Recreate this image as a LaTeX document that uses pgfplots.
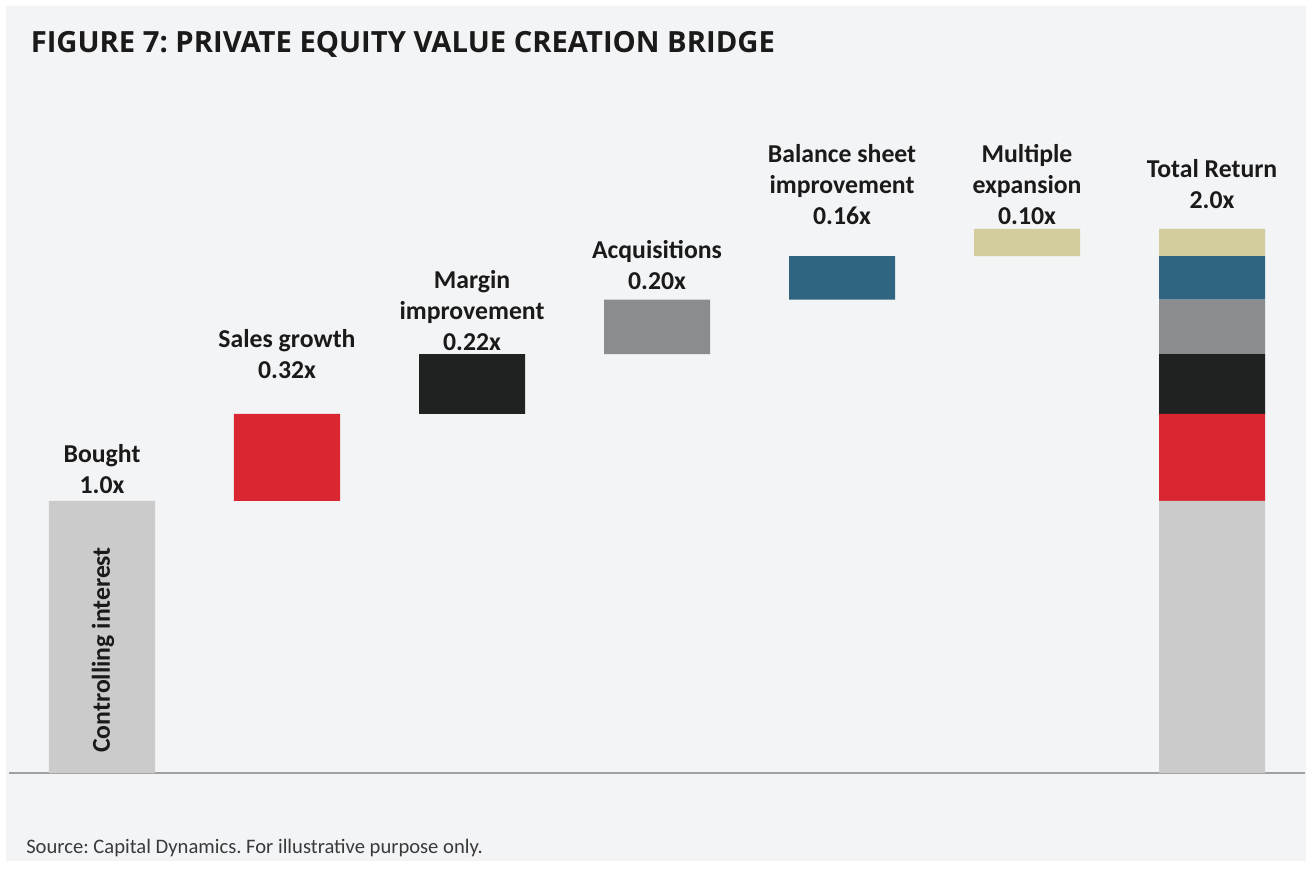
\documentclass[border=0pt]{standalone}
\usepackage{pgfplots}
\usepackage{pgfplotstable}
\pgfplotsset{compat=1.18}
\usepackage{fontspec}
\setmainfont{Carlito}
\newfontfamily\titlefont{Open Sans}
\frenchspacing

\definecolor{bgpanel}{HTML}{F3F4F6}
\definecolor{cgray}{HTML}{CBCBCB}
\definecolor{cred}{HTML}{DA2630}
\definecolor{cblack}{HTML}{202221}
\definecolor{cmid}{HTML}{8B8C8F}
\definecolor{cblue}{HTML}{2F6580}
\definecolor{ctan}{HTML}{D3CD9E}
\definecolor{axisgray}{HTML}{A0A0A0}
\definecolor{txt}{HTML}{1A1A1A}
\definecolor{srctxt}{HTML}{3A3A3A}

\tikzset{lbl/.style={anchor=base, inner sep=0, text=txt,
    font=\bfseries\fontsize{19.3}{23}\selectfont}}

% waterfall: invisible base + one coloured segment per step
\pgfplotstableread{
x base controlling sales margin acq balance multiple
0 0    1.00 0    0    0    0    0
1 1.00 0    0.32 0    0    0    0
2 1.32 0    0    0.22 0    0    0
3 1.54 0    0    0    0.20 0    0
4 1.74 0    0    0    0    0.16 0
5 1.90 0    0    0    0    0    0.10
6 0    1.00 0.32 0.22 0.20 0.16 0.10
}\bridge

\begin{document}
\begin{tikzpicture}
\fill[white] (0,0) rectangle (979.5pt,653.25pt);
\fill[bgpanel] (4.5pt,7.5pt) rectangle (979.5pt,648.75pt);

\node[anchor=base west, inner sep=0, text=txt,
  font=\titlefont\bfseries\fontsize{21.9}{26}\selectfont]
  at (22.9pt,613.7pt) {FIGURE 7: PRIVATE EQUITY VALUE CREATION BRIDGE};
\node[anchor=base west, inner sep=0, text=srctxt,
  font=\fontsize{15.45}{18}\selectfont]
  at (19.5pt,13.5pt) {Source: Capital Dynamics. For illustrative purpose only.};

\begin{axis}[
  at={(7.125pt,73.5pt)}, anchor=south west,
  scale only axis,
  width=971.25pt, height=510pt,
  xmin=-0.5, xmax=6.5, ymin=0, ymax=2.5,
  ybar stacked,
  bar width=0.573,
  axis x line=bottom, axis y line=none,
  x axis line style={-, draw=axisgray, line width=1.5pt},
  xtick=\empty, ytick=\empty,
  clip=false,
]
\addplot[draw=none, fill=none] table[x=x, y=base] {\bridge};
\addplot[draw=none, fill=cgray] table[x=x, y=controlling] {\bridge};
\addplot[draw=none, fill=cred] table[x=x, y=sales] {\bridge};
\addplot[draw=none, fill=cblack] table[x=x, y=margin] {\bridge};
\addplot[draw=none, fill=cmid] table[x=x, y=acq] {\bridge};
\addplot[draw=none, fill=cblue] table[x=x, y=balance] {\bridge};
\addplot[draw=none, fill=ctan] table[x=x, y=multiple] {\bridge};

\coordinate (ci) at (axis cs:0.043,0.0735);

\node[lbl] at (axis cs:0,1.143) {Bought};
\node[lbl] at (axis cs:0,1.029) {1.0x};

\node[lbl] at (axis cs:1,1.566) {Sales growth};
\node[lbl] at (axis cs:1,1.449) {0.32x};

\node[lbl] at (axis cs:2,1.783) {Margin};
\node[lbl] at (axis cs:2,1.669) {improvement};
\node[lbl] at (axis cs:2,1.555) {0.22x};

\node[lbl] at (axis cs:3,1.890) {Acquisitions};
\node[lbl] at (axis cs:3,1.776) {0.20x};

\node[lbl] at (axis cs:4,2.246) {Balance sheet};
\node[lbl] at (axis cs:4,2.132) {improvement};
\node[lbl] at (axis cs:4,2.018) {0.16x};

\node[lbl] at (axis cs:5,2.246) {Multiple};
\node[lbl] at (axis cs:5,2.132) {expansion};
\node[lbl] at (axis cs:5,2.018) {0.10x};

\node[lbl] at (axis cs:6,2.191) {Total Return};
\node[lbl] at (axis cs:6,2.077) {2.0x};
\end{axis}
% text inside the first bar, drawn after the bars
\node[lbl, anchor=base west, rotate=90] at (ci) {Controlling interest};
\end{tikzpicture}
\end{document}
